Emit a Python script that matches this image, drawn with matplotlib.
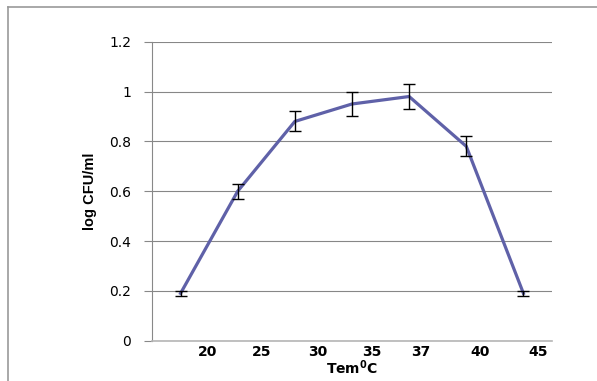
import matplotlib
matplotlib.use("Agg")
import matplotlib.pyplot as plt
from matplotlib.lines import Line2D
import numpy as np

categories = ["20", "25", "30", "35", "37", "40", "45"]
values = [0.19, 0.60, 0.88, 0.95, 0.98, 0.78, 0.19]
errors = [0.01, 0.03, 0.04, 0.05, 0.05, 0.04, 0.01]
# label positions as printed (labels are offset from the points in the original)
label_pos = [0.48, 1.425, 2.405, 3.35, 4.21, 5.24, 6.255]
yticks = [0, 0.2, 0.4, 0.6, 0.8, 1, 1.2]

W, H = 597, 381
fig = plt.figure(figsize=(W / 100, H / 100), dpi=100)
ax = fig.add_axes([152 / W, 1 - 340.7 / H, 400 / W, 299 / H])

x = np.arange(len(values))
ax.plot(x, values, color="#5F61A8", lw=2.3, solid_joinstyle="miter", zorder=3)
ax.errorbar(x, values, yerr=errors, fmt="none", ecolor="black", elinewidth=1.0,
            capsize=4, capthick=1.0, zorder=4)

ax.set_xlim(-0.5, 6.5)
ax.set_ylim(0, 1.2)
ax.set_yticks(yticks)
ax.set_yticklabels(["0", "0.2", "0.4", "0.6", "0.8", "1", "1.2"], fontsize=10,
                   family="DejaVu Sans")
ax.set_xticks(label_pos)
ax.set_xticklabels(categories, fontsize=10, fontweight="bold", family="DejaVu Sans")
ax.tick_params(axis="x", length=0, pad=3)
ax.tick_params(axis="y", length=6, width=0.8, color="#888888", pad=9)

ax.grid(axis="y", color="#878787", lw=0.8)
ax.set_axisbelow(True)
for s in ["top", "right"]:
    ax.spines[s].set_visible(False)
ax.spines["left"].set_color("#888888")
ax.spines["left"].set_linewidth(0.8)
ax.spines["bottom"].set_color("#b5b5b5")
ax.spines["bottom"].set_linewidth(1.2)

ax.set_ylabel("log CFU/ml", fontsize=10.5, fontweight="bold", family="Liberation Sans",
              labelpad=9)
ax.set_xlabel(r"Tem$^{\mathbf{0}}$C", fontsize=10, fontweight="bold",
              family="DejaVu Sans", labelpad=0)

# outer frame lines
fig.add_artist(Line2D([8 / W, 1], [1 - 7 / H, 1 - 7 / H], color="#999999", lw=1.2,
                      transform=fig.transFigure))
fig.add_artist(Line2D([8 / W, 8 / W], [0, 1 - 7 / H], color="#999999", lw=1.2,
                      transform=fig.transFigure))

fig.savefig("out.png", dpi=100)
